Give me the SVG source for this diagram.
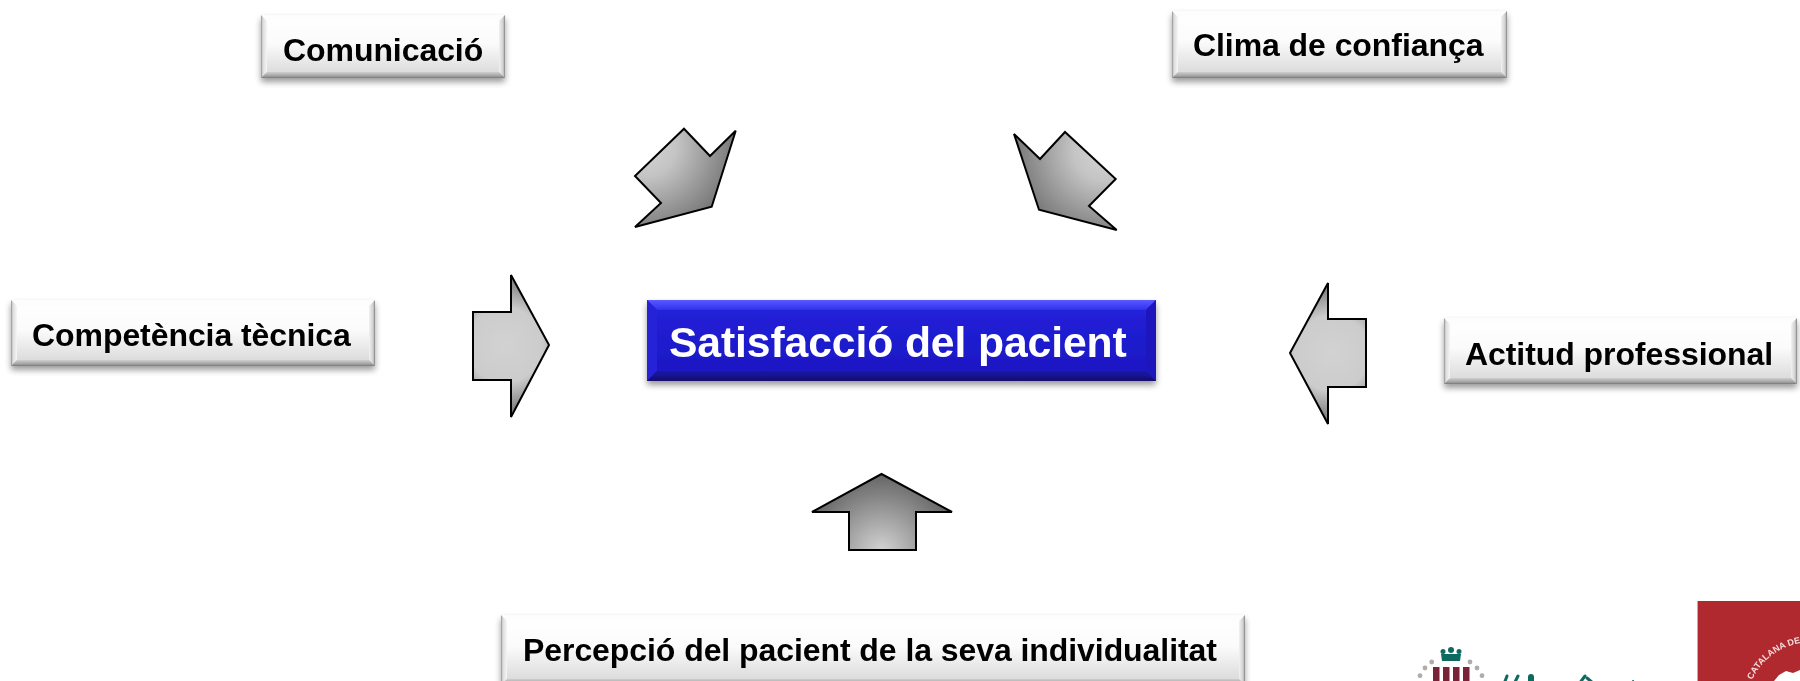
<svg xmlns="http://www.w3.org/2000/svg" width="1800" height="681" viewBox="0 0 1800 681">
<style>
text{font-family:"Liberation Sans",Arial,sans-serif;font-weight:700}
.lbl{font-size:32px;fill:#000;letter-spacing:-.07px}
.arrow{stroke:#000;stroke-width:2;stroke-linejoin:miter}
.face{fill:url(#grayFace)}
.bt{fill:url(#grayBottom)}
.bl{fill:url(#grayLeft)}
.br{fill:url(#grayRight)}
.bu{fill:#fdfdfd}
</style>
<defs>
<linearGradient id="grayFace" x1="0" y1="0" x2="0" y2="1"><stop offset="0" stop-color="#ffffff"/><stop offset=".45" stop-color="#fbfbfb"/><stop offset="1" stop-color="#d6d6d6"/></linearGradient>
<linearGradient id="grayBottom" x1="0" y1="0" x2="0" y2="1"><stop offset="0" stop-color="#cfcfcf"/><stop offset=".7" stop-color="#a0a0a0"/><stop offset="1" stop-color="#777"/></linearGradient>
<linearGradient id="grayLeft" x1="0" y1="0" x2="1" y2="0"><stop offset="0" stop-color="#8f8f8f"/><stop offset=".3" stop-color="#dcdcdc"/><stop offset="1" stop-color="#f6f6f6"/></linearGradient>
<linearGradient id="grayRight" x1="0" y1="0" x2="1" y2="0"><stop offset="0" stop-color="#f2f2f2"/><stop offset=".7" stop-color="#cfcfcf"/><stop offset="1" stop-color="#808080"/></linearGradient>
<linearGradient id="blueFace" x1="0" y1="0" x2="0" y2="1"><stop offset="0" stop-color="#2222dc"/><stop offset="1" stop-color="#1c16c0"/></linearGradient>
<linearGradient id="blueTop" x1="0" y1="0" x2="0" y2="1"><stop offset="0" stop-color="#5a5aff"/><stop offset="1" stop-color="#3030ee"/></linearGradient>
<linearGradient id="blueBottom" x1="0" y1="0" x2="0" y2="1"><stop offset="0" stop-color="#1a14a8"/><stop offset="1" stop-color="#14106e"/></linearGradient>
<radialGradient id="gR" gradientUnits="userSpaceOnUse" cx="505" cy="345" r="75"><stop offset="0" stop-color="#d2d2d2"/><stop offset=".5" stop-color="#cccccc"/><stop offset="1" stop-color="#646464"/></radialGradient>
<radialGradient id="gL" gradientUnits="userSpaceOnUse" cx="1332" cy="353" r="75"><stop offset="0" stop-color="#d2d2d2"/><stop offset=".5" stop-color="#cccccc"/><stop offset="1" stop-color="#646464"/></radialGradient>
<radialGradient id="gU" gradientUnits="userSpaceOnUse" cx="881" cy="552" r="82"><stop offset="0" stop-color="#d4d4d4"/><stop offset="1" stop-color="#5f5f5f"/></radialGradient>
<radialGradient id="gD1" gradientUnits="userSpaceOnUse" cx="645" cy="145" r="105"><stop offset="0" stop-color="#d6d6d6"/><stop offset=".3" stop-color="#c4c4c4"/><stop offset="1" stop-color="#646464"/></radialGradient>
<radialGradient id="gD2" gradientUnits="userSpaceOnUse" cx="1105" cy="150" r="105"><stop offset="0" stop-color="#d6d6d6"/><stop offset=".3" stop-color="#c4c4c4"/><stop offset="1" stop-color="#646464"/></radialGradient>
<filter id="sh" x="-5%" y="-20%" width="110%" height="150%"><feGaussianBlur in="SourceAlpha" stdDeviation="3"/><feOffset dx="0" dy="4"/><feComponentTransfer><feFuncA type="linear" slope=".4"/></feComponentTransfer><feMerge><feMergeNode/><feMergeNode in="SourceGraphic"/></feMerge></filter>
<filter id="soft" x="-5%" y="-5%" width="110%" height="110%"><feGaussianBlur stdDeviation=".7"/></filter>
</defs>
<rect width="1800" height="681" fill="#fff"/>

<g id="connectors">
<polygon class="arrow" fill="url(#gD1)" points="684,128.7 710,156 735.7,130.7 711.7,206.7 635,227 661,203 635,176"/>
<polygon class="arrow" fill="url(#gD2)" points="1014,134 1040,159 1065,132 1115.7,179 1089,206 1116.7,230 1039,209.7"/>
<polygon class="arrow" fill="url(#gR)" points="473,312 511,312 511,275 549,345 511,417 511,380 473,380"/>
<polygon class="arrow" fill="url(#gL)" points="1366,319 1328,319 1328,283 1290,353 1328,424 1328,387 1366,387"/>
<polygon class="arrow" fill="url(#gU)" points="881.5,474 952,512 916,512 916,550 849,550 849,512 812,512"/>
</g>

<g id="node-comunicacio" filter="url(#sh)">
<rect class="face" x="261" y="15" width="244" height="63"/>
<polygon class="bu" points="261,15 505,15 499,21 267,21"/>
<polygon class="bl" points="261,15 267,21 267,72 261,78"/>
<polygon class="br" points="505,15 499,21 499,72 505,78"/>
<polygon class="bt" points="261,78 267,72 499,72 505,78"/>
<text class="lbl" x="283" y="61">Comunicació</text>
</g>
<g id="node-clima" filter="url(#sh)">
<rect class="face" x="1172" y="11" width="335" height="67"/>
<polygon class="bu" points="1172,11 1507,11 1501,17 1178,17"/>
<polygon class="bl" points="1172,11 1178,17 1178,72 1172,78"/>
<polygon class="br" points="1507,11 1501,17 1501,72 1507,78"/>
<polygon class="bt" points="1172,78 1178,72 1501,72 1507,78"/>
<text class="lbl" x="1193" y="56">Clima de confiança</text>
</g>
<g id="node-competencia" filter="url(#sh)">
<rect class="face" x="11" y="300" width="364" height="66"/>
<polygon class="bu" points="11,300 375,300 369,306 17,306"/>
<polygon class="bl" points="11,300 17,306 17,360 11,366"/>
<polygon class="br" points="375,300 369,306 369,360 375,366"/>
<polygon class="bt" points="11,366 17,360 369,360 375,366"/>
<text class="lbl" x="32" y="345.500">Competència tècnica</text>
</g>
<g id="node-actitud" filter="url(#sh)">
<rect class="face" x="1444" y="318" width="353" height="66"/>
<polygon class="bu" points="1444,318 1797,318 1791,324 1450,324"/>
<polygon class="bl" points="1444,318 1450,324 1450,378 1444,384"/>
<polygon class="br" points="1797,318 1791,324 1791,378 1797,384"/>
<polygon class="bt" points="1444,384 1450,378 1791,378 1797,384"/>
<text class="lbl" x="1465" y="364.500">Actitud professional</text>
</g>
<g id="node-percepcio" filter="url(#sh)">
<rect class="face" x="501" y="615" width="744" height="70"/>
<polygon class="bu" points="501,615 1245,615 1239,621 507,621"/>
<polygon class="bl" points="501,615 507,621 507,679 501,685"/>
<polygon class="br" points="1245,615 1239,621 1239,679 1245,685"/>
<polygon class="bt" points="501,685 507,679 1239,679 1245,685"/>
<text class="lbl" x="523" y="661">Percepció del pacient de la seva individualitat</text>
</g>
<g id="node-satisfaccio" filter="url(#sh)">
<rect x="647" y="300" width="509" height="81" fill="url(#blueFace)"/>
<polygon fill="url(#blueTop)" points="647,300 1156,300 1146,310 657,310"/>
<polygon fill="#2620d8" points="647,300 657,310 657,371 647,381"/>
<polygon fill="#1c16bc" points="1156,300 1146,310 1146,371 1156,381"/>
<polygon fill="url(#blueBottom)" points="647,381 657,371 1146,371 1156,381"/>
<text x="669" y="357" font-size="42.67" letter-spacing="-.1" fill="#fff">Satisfacció del pacient</text>
</g>

<g id="logo-left" filter="url(#soft)">
<g fill="#7a2438">
<rect x="1433" y="667" width="6.5" height="16"/>
<rect x="1443" y="667" width="6.5" height="16"/>
<rect x="1453" y="667" width="6.5" height="16"/>
<rect x="1463" y="667" width="6.5" height="16"/>
</g>
<g fill="#b0aca8">
<circle cx="1431.7" cy="662" r="2.4"/><circle cx="1425" cy="668" r="2.4"/><circle cx="1420" cy="675.7" r="2.4"/>
<circle cx="1470" cy="662" r="2.4"/><circle cx="1477" cy="668" r="2.4"/><circle cx="1482" cy="675.7" r="2.4"/>
</g>
<g fill="#0f6b60">
<circle cx="1451" cy="650" r="3"/><circle cx="1443" cy="651.5" r="2.5"/><circle cx="1459" cy="651.5" r="2.5"/>
<path d="M1441,654 L1461,654 L1460,661 L1442,661 Z"/>
</g>
<g fill="none" stroke="#0f6b60" stroke-width="3" stroke-linecap="round">
<path d="M1507,676 L1504,684"/><path d="M1518,676 L1514,684"/>
<path d="M1531,677 L1531,684" stroke-width="6"/>
<path d="M1585,676 L1579,684"/><path d="M1587,678 L1594,684"/>
<path d="M1633,681 L1632,684" stroke-width="2"/>
</g>
</g>

<g id="logo-right">
<rect x="1697" y="601" width="103" height="80" fill="#b0292e"/>
<rect x="1697" y="601" width="1" height="80" fill="#dba0a2"/>
<path id="arcT" d="M1752,680 A66,66 0 0 1 1812,642" fill="none"/>
<text font-size="9" fill="#f4dcdc" filter="url(#soft)"><textPath href="#arcT">CATALANA DE</textPath></text>
<path d="M1774,681 L1779,675 L1786,671 L1793,673 L1800,670 L1800,681 Z" fill="#fff" filter="url(#soft)"/>
</g>
</svg>
